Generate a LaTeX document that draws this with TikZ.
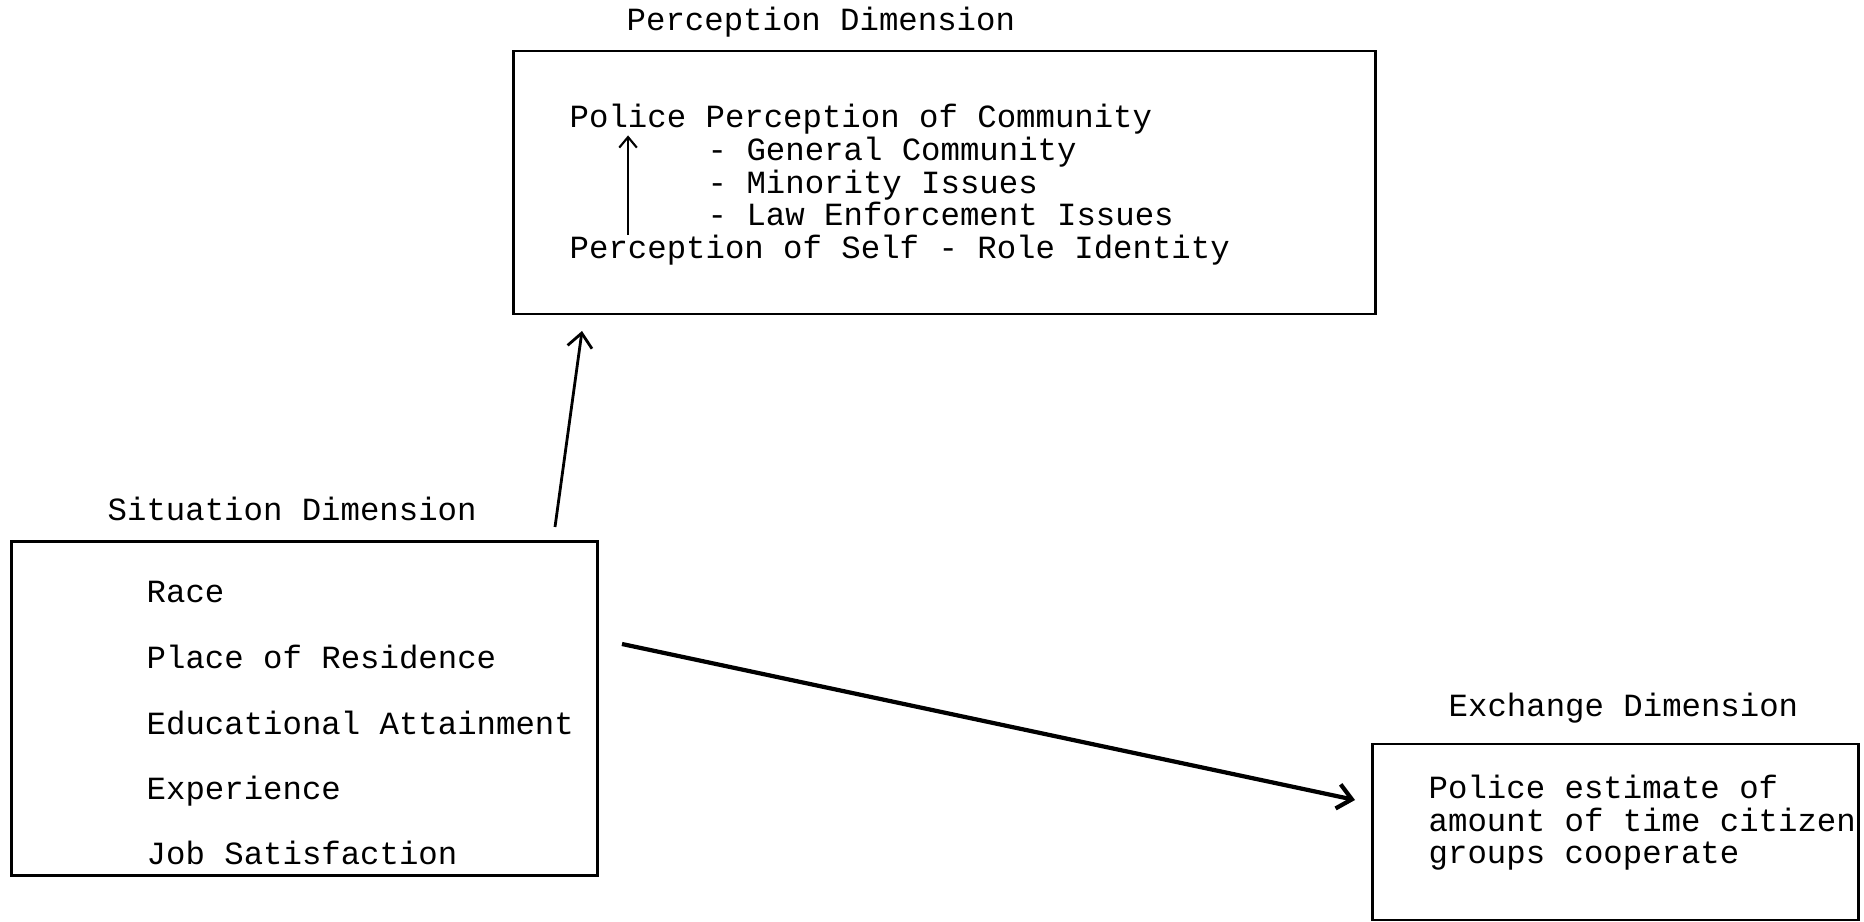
\documentclass[tikz,border=0pt]{standalone}
\usepackage{fontspec}
\setmainfont{Liberation Mono}
\usetikzlibrary{arrows.meta}

\begin{document}
\begin{tikzpicture}[x=0.01cm,y=-0.01cm,
	every node/.style={font=\fontsize{9.2pt}{9.4pt}\selectfont,inner sep=0pt,anchor=base west},
	dimbox/.style={draw,line width=0.8pt,anchor=center},
	link/.style={-{Straight Barb[length=4pt,width=7pt]},line width=#1}]
			          %bornes de la figure
			          \useasboundingbox (0,0) rectangle (1864,922);
			          %PERCEPTION
				  \node[dimbox,minimum width=8.61cm,minimum height=2.63cm] (perc) at (944.5,182.5) {};
				  \node (perctitle) at (626,31) {Perception Dimension};
				  \node (police) at (569,128) {Police Perception of Community};
				  \node (general) at (707,161) {- General Community};
				  \node (minority) at (707,194) {- Minority Issues};
				  \node (law) at (707,226) {- Law Enforcement Issues};
				  \node (self) at (569,259) {Perception of Self - Role Identity};
				  \draw[-{Straight Barb[length=3pt,width=5pt]},line width=0.6pt] ([xshift=0.59cm]self.north west) -- ([xshift=0.59cm]police.south west);
				  %SITUATION
				  \node[dimbox,minimum width=5.85cm,minimum height=3.33cm] (sit) at (304.5,708.5) {};
				  \node (sittitle) at (107,521) {Situation Dimension};
				  \node (race) at (146,603) {Race};
				  \node (residence) at (146,668) {Place of Residence};
				  \node (education) at (146,734) {Educational Attainment};
				  \node (experience) at (146,799) {Experience};
				  \node (job) at (146,864) {Job Satisfaction};
				  %EXCHANGE
				  \node[dimbox,minimum width=4.85cm,minimum height=1.76cm] (exch) at (1615.5,832) {};
				  \node (exchtitle) at (1448,716) {Exchange Dimension};
				  \node (estimate) at (1428,798) {Police estimate of};
				  \node (amount) at (1428,831) {amount of time citizen};
				  \node (groups) at (1428,863) {groups cooperate};
				  %fleches
				  \coordinate (upstart) at (555,527);
				  \coordinate (upend) at (582,331);
				  \coordinate (longstart) at (622,644);
				  \coordinate (longend) at (1355,800);
				  \draw[link=0.8pt] (upstart) -- (upend);
				  \draw[link=1.2pt] (longstart) -- (longend);
\end{tikzpicture}
\end{document}
